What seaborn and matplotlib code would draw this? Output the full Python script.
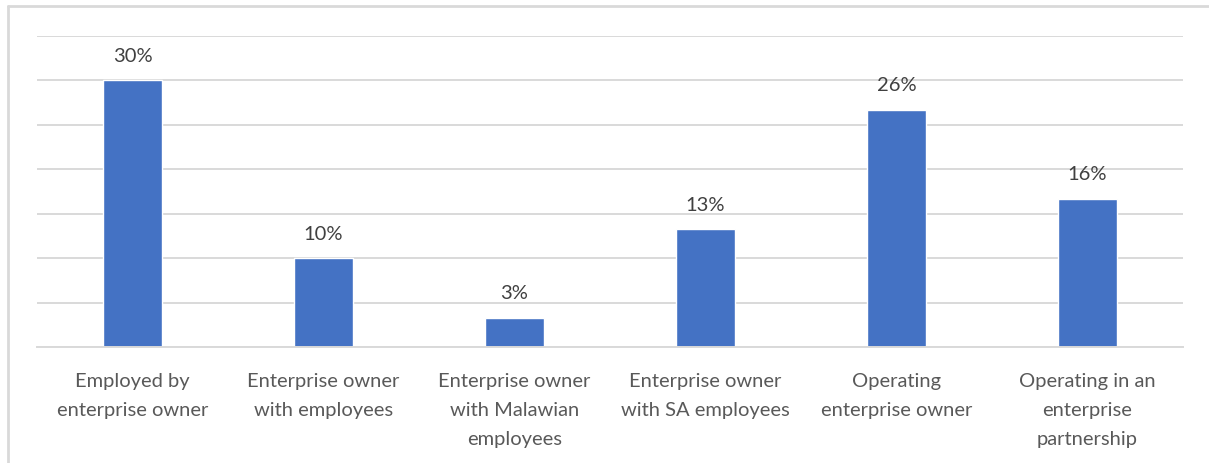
import matplotlib
matplotlib.use("Agg")
import matplotlib.pyplot as plt
import seaborn as sns
import pandas as pd
from matplotlib.lines import Line2D

categories = [
    "Employed by\nenterprise owner",
    "Enterprise owner\nwith employees",
    "Enterprise owner\nwith Malawian\nemployees",
    "Enterprise owner\nwith SA employees",
    "Operating\nenterprise owner",
    "Operating in an\nenterprise\npartnership",
]
values = [30.0, 10.0, 3.3, 13.3, 26.7, 16.7]
value_labels = ["30%", "10%", "3%", "13%", "26%", "16%"]

sns.set_theme(style="white")
plt.rcParams['font.family'] = ['Lato', 'DejaVu Sans']

fig = plt.figure(figsize=(12.09, 4.63), dpi=100)
ax = fig.add_axes([37/1209, 1-347/463, (1183-37)/1209, (347-36)/463])

df = pd.DataFrame({"cat": categories, "val": values})
sns.barplot(data=df, x="cat", y="val", color="#4472C4", width=0.31, saturation=1, ax=ax)

ax.set_ylim(0, 35)
ax.set_yticks(range(0, 36, 5))
ax.set_yticklabels([])
ax.tick_params(axis='y', length=0)
ax.tick_params(axis='x', length=0, pad=19)
for lbl in ax.get_xticklabels():
    lbl.set_fontsize(14.5)
    lbl.set_color("#595959")
    lbl.set_linespacing(1.85)
ax.grid(axis='y', color="#d9d9d9", linewidth=1.4)
ax.set_axisbelow(True)
for s in ["top", "right", "left"]:
    ax.spines[s].set_visible(False)
ax.spines["bottom"].set_color("#d9d9d9")
ax.spines["bottom"].set_linewidth(1.4)
ax.set_xlabel("")
ax.set_ylabel("")
ax.set_xlim(-0.5, len(categories) - 0.5)

ax.bar_label(ax.containers[0], labels=value_labels, padding=11, fontsize=14.5, color="#404040")

# chart border
fig.add_artist(Line2D([8/1209, 1], [1-6/463, 1-6/463], color="#d9d9d9", linewidth=2, transform=fig.transFigure))
fig.add_artist(Line2D([8/1209, 8/1209], [0, 1-6/463], color="#d9d9d9", linewidth=2, transform=fig.transFigure))

fig.savefig("out.png", dpi=100)
